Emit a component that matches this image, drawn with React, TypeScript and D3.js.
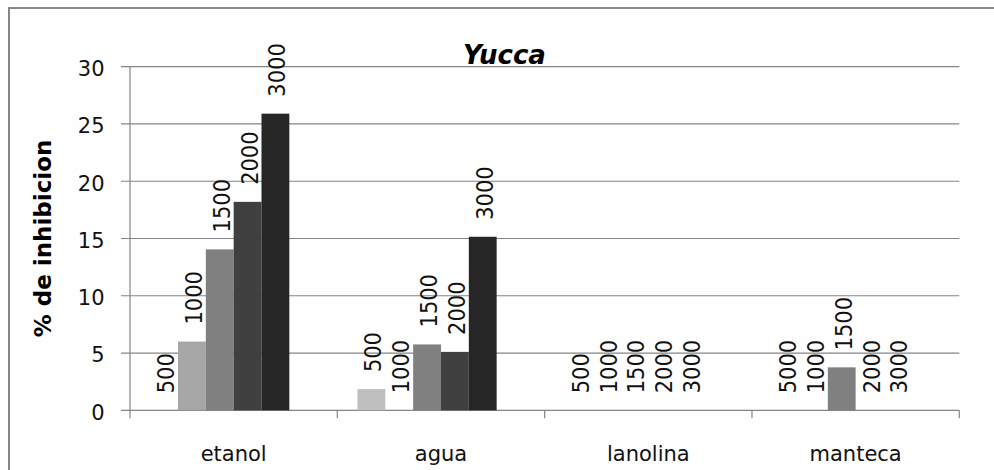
import React from "react";
import * as d3 from "d3";

const categories = ["etanol", "agua", "lanolina", "manteca"];
const series = ["500", "1000", "1500", "2000", "3000"];
const seriesColors = ["#bfbfbf", "#a6a6a6", "#808080", "#404040", "#262626"];
// values[series][category]
const values500 = [0, 1.85, 0, 0];
const values1000 = [6.0, 0, 0, 0];
const values1500 = [14.05, 5.75, 0, 3.75];
const values2000 = [18.2, 5.1, 0, 0];
const values3000 = [25.9, 15.15, 0, 0];
const seriesValues = [values500, values1000, values1500, values2000, values3000];
// data labels per category (as printed in the original, incl. "5000")
const labelsEtanol = ["500", "1000", "1500", "2000", "3000"];
const labelsAgua = ["500", "1000", "1500", "2000", "3000"];
const labelsLanolina = ["500", "1000", "1500", "2000", "3000"];
const labelsManteca = ["5000", "1000", "1500", "2000", "3000"];
const pointLabels = [labelsEtanol, labelsAgua, labelsLanolina, labelsManteca];
const yTicks = [0, 5, 10, 15, 20, 25, 30];
const title = "Yucca";
const yLabel = "% de inhibicion";

const W = 994;
const H = 470;
const FONT = "'DejaVu Sans', sans-serif";

export default function App() {
  const left = 130;
  const right = 959.3;
  const top = 66.7;
  const bottom = 410.3;
  const y = d3.scaleLinear().domain([0, 30]).range([bottom, top]);
  const x0 = d3.scaleBand<string>().domain(categories).range([left, right]).paddingInner(0).paddingOuter(0);
  const bw = x0.bandwidth();
  const barW = bw / 7.45;
  const gap = (bw - 6 * barW) / 2;
  const x1 = d3
    .scaleBand<string>()
    .domain([...series, "_"])
    .range([gap, gap + 6 * barW])
    .paddingInner(0)
    .paddingOuter(0);

  const boundaries = [...categories.map((c) => x0(c) as number), right];

  return (
    <svg
      width={W}
      height={H}
      style={{ position: "absolute", left: 0, top: 0, background: "#fefefe" }}
    >
      <rect x={0} y={0} width={W} height={H} fill="#fefefe" />
      <rect x={9} y={8} width={W} height={H} fill="none" stroke="#868686" strokeWidth={2} />
      {/* gridlines */}
      {yTicks.map((t) => (
        <line key={"g" + t} x1={121} x2={right} y1={y(t)} y2={y(t)} stroke="#858585" strokeWidth={1.2} />
      ))}
      {/* y-axis */}
      <line x1={left} x2={left} y1={top} y2={bottom + 8} stroke="#858585" strokeWidth={1.2} />
      {boundaries.slice(1).map((b, i) => (
        <line key={"ct" + i} x1={b} x2={b} y1={bottom} y2={bottom + 8} stroke="#858585" strokeWidth={1.2} />
      ))}
      {/* y tick labels */}
      {yTicks.map((t) => (
        <text
          key={"yt" + t}
          x={104.5}
          y={y(t) + 9.3}
          textAnchor="end"
          fontFamily={FONT}
          fontSize={21}
          fill="#111"
        >
          {t}
        </text>
      ))}
      {/* bars */}
      {series.map((s, si) =>
        categories.map((c, ci) => {
          const v = seriesValues[si][ci];
          const bx = (x0(c) as number) + (x1(s) as number);
          return (
            <rect
              key={s + c}
              x={bx}
              y={y(v)}
              width={x1.bandwidth()}
              height={bottom - y(v)}
              fill={seriesColors[si]}
            />
          );
        })
      )}
      {/* data labels */}
      {series.map((s, si) =>
        categories.map((c, ci) => {
          const v = seriesValues[si][ci];
          const cx = (x0(c) as number) + (x1(s) as number) + x1.bandwidth() / 2 + 10;
          const ly = y(v) - 17;
          return (
            <text
              key={"l" + s + c}
              transform={`translate(${cx},${ly}) rotate(-90) scale(1,1.1)`}
              textAnchor="start"
              fontFamily={FONT}
              fontSize={21}
              fill="#111"
            >
              {pointLabels[ci][si]}
            </text>
          );
        })
      )}
      {/* category labels */}
      {categories.map((c) => (
        <text
          key={"c" + c}
          x={(x0(c) as number) + bw / 2}
          y={461}
          textAnchor="middle"
          fontFamily={FONT}
          fontSize={21}
          fill="#111"
        >
          {c}
        </text>
      ))}
      {/* title */}
      <text
        x={504.5}
        y={64}
        textAnchor="middle"
        fontFamily={FONT}
        fontSize={26}
        fontWeight="bold"
        fontStyle="italic"
        fill="#000"
      >
        {title}
      </text>
      {/* y label */}
      <text
        transform={`translate(51,${(top + bottom) / 2}) rotate(-90)`}
        textAnchor="middle"
        fontFamily={FONT}
        fontSize={23}
        fontWeight="bold"
        fill="#000"
      >
        {yLabel}
      </text>
    </svg>
  );
}
